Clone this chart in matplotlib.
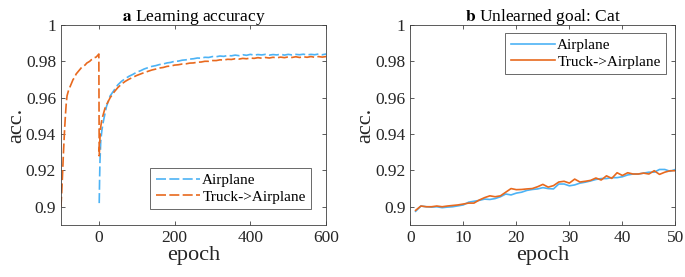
import numpy as np
import matplotlib.pyplot as plt

plt.rcParams['font.family'] = ['Liberation Serif', 'DejaVu Serif']
plt.rcParams['mathtext.fontset'] = 'stix'

blue = '#4DB3F5'
orange = '#E8691E'
grey = '#404040'

# panel a: pre-training on Truck (negative epochs), then learning Airplane
pre_epochs = [-100, -98, -96, -94, -92, -90, -88, -86, -84, -80, -76, -72, -68, -64, -60,
              -56, -52, -48, -44, -40, -36, -32, -28, -24, -20, -16, -12, -8, -4, 0]
pre_truck = [0.900, 0.908, 0.917, 0.927, 0.936, 0.944, 0.951, 0.957, 0.961, 0.964, 0.966,
             0.968, 0.970, 0.971, 0.973, 0.974, 0.975, 0.976, 0.977, 0.9775, 0.978, 0.9790,
             0.9795, 0.980, 0.9808, 0.9812, 0.9820, 0.9822, 0.9830, 0.9840]

post_epochs = [1, 2, 3, 5, 8, 12, 16, 20, 25, 30, 40, 50, 60, 70, 80, 90, 100, 110, 120, 130,
               140, 150, 160, 170, 180, 190, 200, 210, 220, 230, 240, 250, 260, 270, 280, 290,
               300, 310, 320, 330, 340, 350, 360, 370, 380, 390, 400, 410, 420, 430, 440, 450,
               460, 470, 480, 490, 500, 510, 520, 530, 540, 550, 560, 570, 580, 590, 600]
acc_airplane = [0.902, 0.915, 0.925, 0.936, 0.942, 0.947, 0.951, 0.955, 0.958, 0.961, 0.964,
                0.9670, 0.9690, 0.9705, 0.9718, 0.9728, 0.9740, 0.9748, 0.9758, 0.9765, 0.9772,
                0.9776, 0.9782, 0.9785, 0.9791, 0.9794, 0.9800, 0.9801, 0.9806, 0.9808, 0.9812,
                0.9814, 0.9818, 0.9817, 0.9822, 0.9821, 0.9826, 0.9825, 0.9829, 0.9827, 0.9832,
                0.9830, 0.9834, 0.9831, 0.9836, 0.9833, 0.9838, 0.9834, 0.9837, 0.9835, 0.9838,
                0.9834, 0.9837, 0.9835, 0.9839, 0.9834, 0.9838, 0.9835, 0.9838, 0.9836, 0.9839,
                0.9835, 0.9838, 0.9836, 0.9840, 0.9836, 0.9840]
acc_truck_airplane = [0.928, 0.933, 0.938, 0.944, 0.948, 0.951, 0.954, 0.956, 0.958, 0.960,
                      0.963, 0.9655, 0.9675, 0.9690, 0.9702, 0.9712, 0.9722, 0.9730, 0.9738,
                      0.9745, 0.9752, 0.9757, 0.9763, 0.9766, 0.9772, 0.9774, 0.9779, 0.9781,
                      0.9785, 0.9786, 0.9790, 0.9791, 0.9795, 0.9796, 0.9800, 0.9800, 0.9804,
                      0.9804, 0.9808, 0.9807, 0.9811, 0.9810, 0.9814, 0.9812, 0.9816, 0.9814,
                      0.9818, 0.9816, 0.9820, 0.9817, 0.9821, 0.9818, 0.9822, 0.9819, 0.9823,
                      0.9820, 0.9824, 0.9821, 0.9825, 0.9821, 0.9825, 0.9822, 0.9826, 0.9822,
                      0.9826, 0.9823, 0.9826]

# panel b: accuracy on the unlearned goal (Cat)
epochs_b = list(range(1, 51))
cat_airplane = [0.8975, 0.9004, 0.9000, 0.8998, 0.9000, 0.8995, 0.8998, 0.9000, 0.9005, 0.9010,
                0.9025, 0.9030, 0.9035, 0.9042, 0.9040, 0.9045, 0.9055, 0.9070, 0.9065, 0.9075,
                0.9080, 0.9090, 0.9095, 0.9098, 0.9105, 0.9100, 0.9098, 0.9125, 0.9125, 0.9115,
                0.9120, 0.9130, 0.9135, 0.9142, 0.9150, 0.9155, 0.9155, 0.9160, 0.9160, 0.9165,
                0.9175, 0.9180, 0.9180, 0.9185, 0.9190, 0.9190, 0.9205, 0.9205, 0.9195, 0.9205]
cat_truck_airplane = [0.8980, 0.9004, 0.9000, 0.9000, 0.9004, 0.9000, 0.9004, 0.9007, 0.9010,
                      0.9015, 0.9020, 0.9020, 0.9037, 0.9050, 0.9060, 0.9055, 0.9060, 0.9080,
                      0.9100, 0.9094, 0.9095, 0.9098, 0.9100, 0.9110, 0.9123, 0.9108, 0.9116,
                      0.9136, 0.9140, 0.9130, 0.9152, 0.9136, 0.9140, 0.9145, 0.9158, 0.9147,
                      0.9170, 0.9156, 0.9187, 0.9172, 0.9187, 0.9180, 0.9180, 0.9185, 0.9180,
                      0.9198, 0.9178, 0.9190, 0.9198, 0.9198]

yticks = [0.9, 0.92, 0.94, 0.96, 0.98, 1.0]
yticklabels = ['0.9', '0.92', '0.94', '0.96', '0.98', '1']

fig = plt.figure(figsize=(6.85, 2.77), dpi=100)
ax1 = fig.add_axes([0.089, 0.188, 0.387, 0.722])
ax2 = fig.add_axes([0.599, 0.188, 0.387, 0.722])

dash = (0, (6, 2))
ax1.plot(post_epochs, acc_airplane, color=blue, lw=1.2, linestyle=dash, label='Airplane')
ax1.plot(pre_epochs + post_epochs, pre_truck + acc_truck_airplane, color=orange, lw=1.2,
         linestyle=dash, label='Truck->Airplane')
ax1.set_xlim(-100, 600)
ax1.set_xticks([0, 200, 400, 600])
ax1.set_title(r'$\mathbf{a}$ Learning accuracy', fontsize=12.5, pad=3)

ax2.plot(epochs_b, cat_airplane, color=blue, lw=1.2, label='Airplane')
ax2.plot(epochs_b, cat_truck_airplane, color=orange, lw=1.2, label='Truck->Airplane')
ax2.set_xlim(0, 50)
ax2.set_xticks([0, 10, 20, 30, 40, 50])
ax2.set_title(r'$\mathbf{b}$ Unlearned goal: Cat', fontsize=12.5, pad=3)

for ax in (ax1, ax2):
    ax.set_ylim(0.89, 1.0)
    ax.set_yticks(yticks)
    ax.set_yticklabels(yticklabels)
    ax.tick_params(direction='in', top=True, right=True, labelsize=12.5, colors=grey,
                   labelcolor='#262626', length=3, width=0.6)
    for s in ax.spines.values():
        s.set_color(grey)
        s.set_linewidth(0.6)
    ax.set_xlabel('epoch', fontsize=16, color='#262626', labelpad=0)
    ax.set_ylabel('acc.', fontsize=16, color='#262626', labelpad=0)

leg_kw = dict(fontsize=11, fancybox=False, edgecolor='#262626', handlelength=2.9,
              borderpad=0.35, labelspacing=0.2, handletextpad=0.15, borderaxespad=0,
              bbox_transform=fig.transFigure)
leg1 = ax1.legend(loc='lower right', bbox_to_anchor=(311 / 685, 1 - 209 / 277), **leg_kw)
leg1.get_frame().set_linewidth(0.6)
leg2 = ax2.legend(loc='upper right', bbox_to_anchor=(666 / 685, 1 - 33 / 277), **leg_kw)
leg2.get_frame().set_linewidth(0.6)

fig.savefig('out.png', dpi=100)
